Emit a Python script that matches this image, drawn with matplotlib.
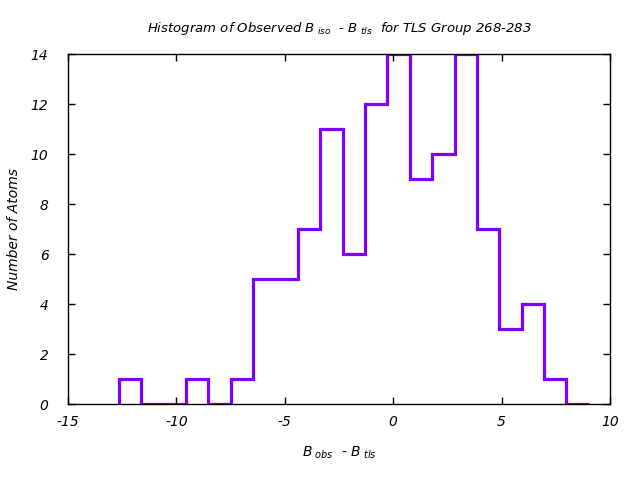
import matplotlib
matplotlib.use("Agg")
import matplotlib.pyplot as plt

edges = [-12.65, -11.62, -10.59, -9.55, -8.52, -7.49, -6.46, -5.43, -4.39, -3.36,
         -2.33, -1.30, -0.27, 0.77, 1.80, 2.83, 3.86, 4.89, 5.93, 6.96, 7.99, 9.02]
counts = [1, 0, 0, 1, 0, 1, 5, 5, 7, 11, 6, 12, 14, 9, 10, 14, 7, 3, 4, 1, 0]
xticks = [-15, -10, -5, 0, 5, 10]
yticks = [0, 2, 4, 6, 8, 10, 12, 14]

plt.rcParams['font.family'] = ['DejaVu Sans']
plt.rcParams['font.style'] = 'italic'
plt.rcParams['axes.unicode_minus'] = False
plt.rcParams['mathtext.fontset'] = 'custom'
plt.rcParams['mathtext.it'] = 'DejaVu Sans:italic'
plt.rcParams['mathtext.rm'] = 'DejaVu Sans:italic'
plt.rcParams['mathtext.default'] = 'it'

fig = plt.figure(figsize=(6.4, 4.8), dpi=100)
ax = fig.add_axes([68/640, 1-404/480, (610-68)/640, (404-54)/480])

ax.stairs(counts, edges, baseline=0, color='#8000ff', linewidth=2.3, zorder=1)

ax.set_xlim(-15, 10)
ax.set_ylim(0, 14)
ax.set_xticks(xticks)
ax.set_yticks(yticks)
ax.tick_params(direction='in', top=True, right=True, length=5, width=1,
               labelsize=10)
ax.tick_params(axis='x', pad=8)
ax.tick_params(axis='y', pad=14)
for lab in ax.get_xticklabels() + ax.get_yticklabels():
    lab.set_fontstyle('italic')
for s in ax.spines.values():
    s.set_linewidth(1)
    s.set_zorder(3)

ax.set_title(r'Histogram of Observed B$_{\ iso}$  - B$_{\ tls}$  for TLS Group 268-283',
             fontsize=9.5, style='italic', pad=16)
ax.set_xlabel(r'B$_{\ obs}$  - B$_{\ tls}$', fontsize=10, style='italic', labelpad=11)
ax.set_ylabel('Number of Atoms', fontsize=10, style='italic')
ax.yaxis.set_label_coords(-0.087, 0.5)

fig.savefig('out.png', dpi=100)
